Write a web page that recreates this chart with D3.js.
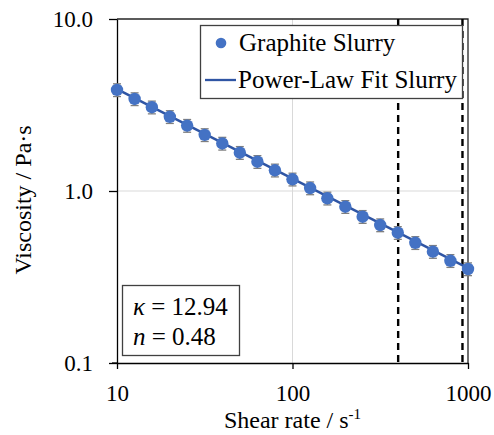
<!DOCTYPE html>
<html>
<head>
<meta charset="utf-8">
<script src="https://d3js.org/d3.v7.min.js"></script>
<style>
  body { margin: 0; background: #fff; }
</style>
</head>
<body>
<div id="chart"></div>
<script>
  const w = 494, h = 435
  const margin = {left: 117, right: 26, top: 19, bottom: 72}
  const serif = "'Liberation Serif', 'Times New Roman', serif"

  const shearRate = [10, 12.6, 15.8, 20, 25.1, 31.6, 39.8, 50.1, 63.1, 79.4, 100,
                     126, 158, 200, 251, 316, 398, 501, 631, 794, 1000]
  const viscosity = [3.87, 3.43, 3.07, 2.70, 2.40, 2.12, 1.89, 1.67, 1.48, 1.32, 1.17,
                     1.04, 0.907, 0.81, 0.709, 0.634, 0.572, 0.50, 0.444, 0.393, 0.352]
  const errFrac = 0.085
  // power-law fit end points
  const fitX = [10, 1000]
  const fitY = [3.91, 0.356]
  const markerLines = [400, 930]
  const xTicks = [10, 100, 1000]
  const yTicks = [0.1, 1, 10]

  const svg = d3.select("#chart").append("svg")
    .attr("width", w).attr("height", h)
    .style("font-family", serif)

  const x = d3.scaleLog().domain([10, 1000]).range([margin.left, w - margin.right])
  const y = d3.scaleLog().domain([0.1, 10]).range([h - margin.bottom, margin.top])

  // gridlines
  svg.append("line")
    .attr("x1", x(100)).attr("x2", x(100))
    .attr("y1", y(10)).attr("y2", y(0.1))
    .attr("stroke", "#d9d9d9").attr("stroke-width", 1)
  svg.append("line")
    .attr("x1", x(10)).attr("x2", x(1000))
    .attr("y1", y(1)).attr("y2", y(1))
    .attr("stroke", "#d9d9d9").attr("stroke-width", 1)

  // frame top / right
  svg.append("path")
    .attr("d", `M${x(10)},${y(10)}H${x(1000)}V${y(0.1)}`)
    .attr("fill", "none").attr("stroke", "#262626").attr("stroke-width", 1.3)

  // dashed vertical lines
  svg.selectAll(".vdash").data(markerLines).enter().append("line")
    .attr("x1", d => x(d)).attr("x2", d => x(d))
    .attr("y1", y(10)).attr("y2", y(0.1))
    .attr("stroke", "#000").attr("stroke-width", 2.4)
    .attr("stroke-dasharray", "7,5")

  // axes
  const xAxis = g => g
    .attr("transform", `translate(0, ${y(0.1)})`)
    .call(d3.axisBottom(x).tickValues(xTicks).tickFormat(d3.format("d")).tickSize(6).tickPadding(16).tickSizeOuter(0))
  const yAxis = g => g
    .attr("transform", `translate(${x(10)}, 0)`)
    .call(d3.axisLeft(y).tickValues(yTicks).tickFormat(d3.format(".1f")).tickSize(8).tickPadding(16).tickSizeOuter(0))

  svg.append("g").call(xAxis)
  svg.append("g").call(yAxis)
  svg.selectAll(".tick text").attr("font-size", "23px")
    .style("font-family", serif).attr("fill", "#000")
  svg.selectAll(".domain, .tick line").attr("stroke", "#000").attr("stroke-width", 1.3)
  // bottom axis extends slightly past the left axis
  svg.append("line")
    .attr("x1", x(10) - 5).attr("x2", x(10))
    .attr("y1", y(0.1)).attr("y2", y(0.1))
    .attr("stroke", "#000").attr("stroke-width", 1.3)

  // axis titles
  const xt = svg.append("text")
    .attr("x", (x(10) + x(1000)) / 2).attr("y", 428)
    .attr("text-anchor", "middle").attr("font-size", "24px")
    .style("font-family", serif)
    .text("Shear rate / s")
  xt.append("tspan").attr("font-size", "15px").attr("dy", "-9").text("-1")

  svg.append("text")
    .attr("transform", `translate(31, 200) rotate(-90)`)
    .attr("text-anchor", "middle").attr("font-size", "24px")
    .style("font-family", serif)
    .text("Viscosity / Pa·s")

  // fit line
  const fitData = fitX.map((d, i) => [d, fitY[i]])
  svg.append("path")
    .datum(fitData)
    .attr("fill", "none")
    .attr("stroke", "#2f55a4").attr("stroke-width", 2.5)
    .attr("d", d3.line().x(d => x(d[0])).y(d => y(d[1])))

  const pts = shearRate.map((d, i) => ({sr: d, v: viscosity[i]}))

  // error bars
  const eb = svg.append("g").attr("stroke", "#7f7f7f").attr("stroke-width", 1.3)
  pts.forEach(d => {
    const cx = x(d.sr)
    const yt = y(d.v * (1 + errFrac)), yb = y(d.v * (1 - errFrac))
    eb.append("line").attr("x1", cx).attr("x2", cx).attr("y1", yt).attr("y2", yb)
    eb.append("line").attr("x1", cx - 4).attr("x2", cx + 4).attr("y1", yt).attr("y2", yt)
    eb.append("line").attr("x1", cx - 4).attr("x2", cx + 4).attr("y1", yb).attr("y2", yb)
  })

  svg.selectAll(".pt").data(pts).enter().append("circle")
    .attr("cx", d => x(d.sr)).attr("cy", d => y(d.v))
    .attr("r", 6.2)
    .attr("fill", "#4472c4")

  // legend
  const lg = svg.append("g").style("font-family", serif)
  lg.append("rect")
    .attr("x", 200.5).attr("y", 25.5).attr("width", 262).attr("height", 73)
    .attr("fill", "#fff").attr("stroke", "#404040").attr("stroke-width", 1.3)
  lg.append("circle").attr("cx", 221).attr("cy", 43).attr("r", 5.3).attr("fill", "#4472c4")
  lg.append("text").attr("x", 239).attr("y", 51).attr("font-size", "25px").text("Graphite Slurry")
  lg.append("line").attr("x1", 205).attr("x2", 236).attr("y1", 80).attr("y2", 80)
    .attr("stroke", "#2f55a4").attr("stroke-width", 2.3)
  lg.append("text").attr("x", 238).attr("y", 88).attr("font-size", "25px").text("Power-Law Fit Slurry")

  // parameter box
  const pb = svg.append("g").style("font-family", serif)
  pb.append("rect")
    .attr("x", 122.5).attr("y", 285.5).attr("width", 117).attr("height", 70)
    .attr("fill", "#fff").attr("stroke", "#404040").attr("stroke-width", 1.3)
  const t1 = pb.append("text").attr("x", 133).attr("y", 315).attr("font-size", "25px")
  t1.append("tspan").attr("font-style", "italic").text("κ")
  t1.append("tspan").text(" = 12.94")
  const t2 = pb.append("text").attr("x", 133).attr("y", 345).attr("font-size", "25px")
  t2.append("tspan").attr("font-style", "italic").text("n")
  t2.append("tspan").text(" = 0.48")
</script>
</body>
</html>
